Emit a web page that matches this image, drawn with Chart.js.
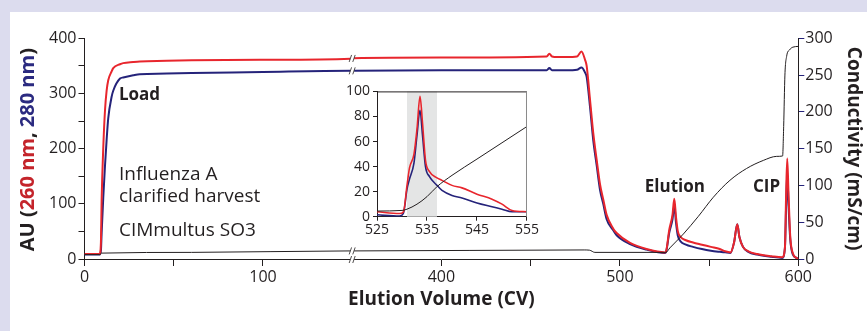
<!DOCTYPE html>
<html>
<head>
<meta charset="utf-8">
<script src="https://cdn.jsdelivr.net/npm/chart.js@4.4.1/dist/chart.umd.min.js"></script>
<style>
  html, body { margin: 0; padding: 0; background: #dcdcee; }
  #wrap { position: absolute; left: 10px; top: 12px; width: 857px; height: 319px; background: #fff; }
  #main { position: absolute; left: 0; top: 0; }
  #inset { position: absolute; left: 325px; top: 68px; }
</style>
</head>
<body>
<div id="wrap">
  <canvas id="main" width="857" height="319"></canvas>
  <canvas id="inset" width="205" height="165"></canvas>
</div>
<script>
// Colours
const INK = '#231f20';
const RED = '#e8262d';
const NAVY = '#25237a';

// Broken x axis: 150 -> 350 CV is cut out
const BREAK_LO = 150, BREAK_HI = 350;
const toAxis = v => v <= BREAK_LO ? v : v - (BREAK_HI - BREAK_LO);

// Main run: UV traces (AU) vs elution volume (CV)
const uvVolume = [0, 8.5, 9.2, 9.6, 10.5, 11.5, 12.4, 13.3, 15.2, 16.1, 19.9, 21.7, 27.3, 31, 60, 100, 149,
  351, 400, 459, 460.5, 462, 465, 470, 476, 478.5, 480.5, 481.4, 483.3, 485.1, 487, 488.9, 490.7, 492.6,
  496.3, 498.2, 505.7, 515, 525.3, 525.8, 527.7, 529.5, 530.5, 531.5, 532.5, 534, 537, 541, 546, 551,
  556, 559, 562, 564, 565.8, 567, 569, 572, 577, 585, 591, 592.5, 593.2, 593.8, 594.5, 595.5, 597, 599, 600];
const a260 = [9, 9, 30, 107, 200, 270, 305, 324, 340, 346, 353, 355, 357, 358, 360, 361, 363,
  364, 365, 367, 372, 367, 366, 366, 367, 376, 361, 350, 288, 228, 180, 135, 108, 80,
  55, 47, 29, 18, 12, 13, 53, 80, 109, 75, 50, 40, 34, 30, 26, 22,
  18, 14, 12, 30, 63, 40, 22, 14, 9, 5, 3, 20, 120, 182, 120, 40, 10, 2, 0];
const a280 = [8, 8, 15, 47, 110, 170, 216, 255, 294, 305, 327, 329, 333, 335, 337, 339, 341,
  341, 342, 342, 346, 342, 342, 342, 343, 347, 338, 330, 275, 215, 170, 125, 100, 72,
  52, 43, 27, 17, 11, 12, 48, 72, 97, 65, 42, 32, 26, 22, 18, 15,
  13, 12, 11, 30, 63, 40, 22, 13, 8, 4, 2, 20, 100, 157, 100, 35, 8, 2, 0];

// Conductivity (mS/cm)
const condVolume = [0, 8.6, 9.5, 60, 149, 351, 480, 483, 486, 525.8, 528, 535.6, 544, 552.4, 561.7, 571,
  580.4, 587.9, 591.2, 591.8, 592.5, 593.5, 595, 597, 600];
const conductivity = [6, 6, 8, 9, 11, 11, 12.3, 12, 9, 9, 15, 34, 58, 84, 107, 123,
  134, 139.5, 140, 180, 250, 276, 284, 288, 289];

// x tick labels (real CV) and axis titles
const xTickVolumes = [0, 100, 400, 500, 600];
const yTitleParts = [
  { text: 'AU (', color: INK },
  { text: '260 nm', color: '#c4242b' },
  { text: ', ', color: INK },
  { text: '280 nm', color: '#2b2a80' },
  { text: ')', color: INK }
];
const xTitle = 'Elution Volume (CV)';
const y2Title = 'Conductivity (mS/cm)';

// Text labels in data coordinates (volume CV, AU)
const notes = [
  { text: 'Load', vol: 19.3, au: 288, bold: true },
  { text: 'Influenza A', vol: 19.3, au: 143, bold: false },
  { text: 'clarified harvest', vol: 19.3, au: 103, bold: false },
  { text: 'CIMmultus SO3', vol: 19.3, au: 42, bold: false },
  { text: 'Elution', vol: 514, au: 121, bold: true },
  { text: 'CIP', vol: 574.6, au: 121, bold: true }
];

// Inset: zoom on elution peak
const insetVolume = [525, 529.5, 530.3, 531, 531.5, 532.4, 533, 533.6, 534.1, 534.7, 535.5, 537, 538,
  540, 542, 545, 548, 550, 552, 555];
const insetA260 = [4, 2.5, 4, 25, 39, 50, 70, 96, 75, 45, 36, 31, 29, 25, 23, 18, 14, 10, 5, 4];
const insetA280 = [1.5, 0.5, 3, 22, 30, 43, 65, 85, 65, 40, 32, 25, 21, 17, 15, 11, 8, 6, 4, 4];
const insetCondVolume = [525, 530, 531, 533, 535, 537, 540, 545, 550, 555];
const insetCond = [4.5, 5, 6, 10, 16, 24, 33, 46, 59, 72];
const poolRange = [531, 537];

const FONT = '"Open Sans", "Noto Sans", sans-serif';

const pts = (xs, ys, f) => xs.map((v, i) => ({ x: f ? f(v) : v, y: ys[i] }));

// Multi-coloured left title
const leftTitle = {
  id: 'leftTitle',
  afterDraw(chart) {
    const { ctx, chartArea } = chart;
    ctx.save();
    ctx.font = 'bold 20px ' + FONT;
    const total = yTitleParts.reduce((w, p) => w + ctx.measureText(p.text).width, 0);
    ctx.translate(18.5, (chartArea.top + chartArea.bottom) / 2 + 1);
    ctx.rotate(-Math.PI / 2);
    ctx.textBaseline = 'middle';
    let x = -total / 2;
    yTitleParts.forEach(p => {
      ctx.fillStyle = p.color;
      ctx.fillText(p.text, x, 0);
      x += ctx.measureText(p.text).width;
    });
    ctx.restore();
  }
};

// Text notes
const noteLabels = {
  id: 'noteLabels',
  afterDraw(chart) {
    const { ctx, scales: { x, y } } = chart;
    ctx.save();
    ctx.fillStyle = INK;
    ctx.textBaseline = 'alphabetic';
    notes.forEach(n => {
      ctx.font = (n.bold ? 'bold 17px ' : '19px ') + FONT;
      ctx.fillText(n.text, x.getPixelForValue(toAxis(n.vol)), y.getPixelForValue(n.au));
    });
    ctx.restore();
  }
};

// "//" break marks on traces and x axis
const breakMarks = {
  id: 'breakMarks',
  afterDraw(chart) {
    const { ctx, scales: { x } } = chart;
    const px = x.getPixelForValue(BREAK_LO);
    const ys = [x.top + 0.5];
    chart.data.datasets.forEach((ds, i) => {
      const el = chart.getDatasetMeta(i).data;
      for (let k = 1; k < el.length; k++) {
        if (el[k].x >= px) {
          const a = el[k - 1], b = el[k];
          const t = (px - a.x) / ((b.x - a.x) || 1);
          ys.push(a.y + t * (b.y - a.y));
          break;
        }
      }
    });
    ctx.save();
    ys.forEach(yy => {
      ctx.fillStyle = '#fff';
      ctx.fillRect(px - 2, yy - 3, 4, 6);
      ctx.strokeStyle = INK;
      ctx.lineWidth = 0.8;
      [-1.8, 1.8].forEach(dx => {
        ctx.beginPath();
        ctx.moveTo(px + dx - 1.2, yy + 3.5);
        ctx.lineTo(px + dx + 1.2, yy - 3.5);
        ctx.stroke();
      });
    });
    ctx.restore();
  }
};

new Chart(document.getElementById('main'), {
  type: 'line',
  data: {
    datasets: [
      { data: pts(condVolume, conductivity, toAxis), yAxisID: 'y2', borderColor: INK, borderWidth: 1 },
      { data: pts(uvVolume, a260, toAxis), yAxisID: 'y', borderColor: RED, borderWidth: 2 },
      { data: pts(uvVolume, a280, toAxis), yAxisID: 'y', borderColor: NAVY, borderWidth: 2 }
    ]
  },
  options: {
    responsive: false,
    animation: false,
    devicePixelRatio: 1,
    layout: { padding: { top: 26.3, left: 0, right: 0, bottom: 0 } },
    elements: { point: { radius: 0 }, line: { cubicInterpolationMode: 'monotone' } },
    plugins: { legend: { display: false }, tooltip: { enabled: false } },
    scales: {
      x: {
        type: 'linear', min: 0, max: 400,
        afterFit: s => { s.height = 72; },
        border: { color: INK, width: 1 },
        grid: {
          drawOnChartArea: false, tickLength: 7,
          tickColor: c => (c.tick && c.tick.value === BREAK_LO) ? 'rgba(0,0,0,0)' : INK
        },
        ticks: {
          stepSize: 50, color: INK, font: { family: FONT, size: 16 }, padding: 2, maxRotation: 0,
          callback: v => {
            const hit = xTickVolumes.find(t => toAxis(t) === v);
            return hit === undefined ? '' : String(hit);
          }
        },
        title: {
          display: true, text: xTitle, color: INK,
          font: { family: FONT, size: 19, weight: 'bold' },
          padding: { top: 0, bottom: 20 }
        }
      },
      y: {
        position: 'left', min: 0, max: 400,
        afterFit: s => { s.width = 74.5; },
        border: { color: INK, width: 1 },
        grid: { drawOnChartArea: false, tickLength: 6, tickColor: INK },
        ticks: {
          stepSize: 50, color: INK, font: { family: FONT, size: 16 }, padding: 2,
          callback: v => v % 100 === 0 ? String(v) : ''
        }
      },
      y2: {
        position: 'right', min: 0, max: 300,
        afterFit: s => { s.width = 68.7; },
        border: { color: INK, width: 1 },
        grid: { drawOnChartArea: false, tickLength: 6, tickColor: NAVY },
        ticks: { stepSize: 50, color: INK, font: { family: FONT, size: 16 }, padding: 1 },
        title: {
          display: true, text: y2Title, color: INK,
          font: { family: FONT, size: 19, weight: 'bold' },
          padding: { top: 2, bottom: 0 }
        }
      }
    }
  },
  plugins: [leftTitle, noteLabels, breakMarks]
});

// Inset helpers: pooled fraction shading and frame
const poolShade = {
  id: 'poolShade',
  beforeDatasetsDraw(chart) {
    const { ctx, chartArea, scales: { x } } = chart;
    const x0 = x.getPixelForValue(poolRange[0]), x1 = x.getPixelForValue(poolRange[1]);
    ctx.save();
    ctx.fillStyle = '#e4e5e5';
    ctx.fillRect(x0, chartArea.top, x1 - x0, chartArea.bottom - chartArea.top);
    ctx.restore();
  }
};
const insetFrame = {
  id: 'insetFrame',
  afterDraw(chart) {
    const { ctx, chartArea: a } = chart;
    ctx.save();
    ctx.lineWidth = 1;
    ctx.strokeStyle = INK;
    ctx.beginPath(); ctx.moveTo(a.left, a.top + 0.5); ctx.lineTo(a.right, a.top + 0.5); ctx.stroke();
    ctx.strokeStyle = '#8a8a8a';
    ctx.beginPath(); ctx.moveTo(a.right - 0.5, a.top); ctx.lineTo(a.right - 0.5, a.bottom); ctx.stroke();
    ctx.restore();
  }
};

new Chart(document.getElementById('inset'), {
  type: 'line',
  data: {
    datasets: [
      { data: pts(insetCondVolume, insetCond), borderColor: INK, borderWidth: 1 },
      { data: pts(insetVolume, insetA260), borderColor: RED, borderWidth: 1.6 },
      { data: pts(insetVolume, insetA280), borderColor: NAVY, borderWidth: 1.6 }
    ]
  },
  options: {
    responsive: false,
    animation: false,
    devicePixelRatio: 1,
    layout: { padding: { top: 7.3, right: 8, left: 0, bottom: 0 } },
    elements: { point: { radius: 0 }, line: { cubicInterpolationMode: 'monotone' } },
    plugins: { legend: { display: false }, tooltip: { enabled: false } },
    scales: {
      x: {
        type: 'linear', min: 525, max: 555,
        afterFit: s => { s.height = 28.3; },
        border: { color: INK, width: 1 },
        grid: { drawOnChartArea: false, tickLength: 4, tickColor: INK },
        ticks: { stepSize: 10, color: INK, font: { family: FONT, size: 14 }, padding: 1, maxRotation: 0 }
      },
      y: {
        min: 0, max: 100,
        afterFit: s => { s.width = 42; },
        border: { color: INK, width: 1 },
        grid: { drawOnChartArea: false, tickLength: 4, tickColor: INK },
        ticks: { stepSize: 20, color: INK, font: { family: FONT, size: 14 }, padding: 3 }
      }
    }
  },
  plugins: [poolShade, insetFrame]
});
</script>
</body>
</html>
